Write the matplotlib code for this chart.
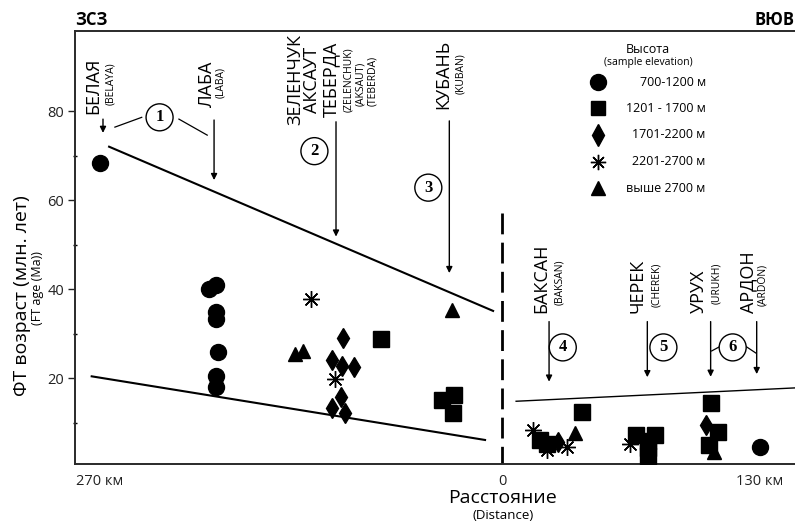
import numpy as np
import matplotlib
matplotlib.use("Agg")
import matplotlib.pyplot as plt
from matplotlib import font_manager

# ---------------- data ----------------
# distance in km (west negative, east positive), FT age in Ma
circle_x = [-270, -197, -192, -192, -192, -191, -192, -192, 130]
circle_y = [68.4, 40.0, 40.9, 34.9, 33.2, 25.9, 20.4, 17.9, 4.6]

square_x = [-81.3, -40.5, -32.2, -33.1, 40.1, 19.1, 22.7,
            67.5, 77.1, 73.6, 73.6, 73.6, 105.1, 108.8, 104.5]
square_y = [28.7, 15.1, 16.2, 12.1, 12.4, 6.1, 5.2,
            7.2, 7.2, 5.8, 4.3, 2.5, 14.3, 7.9, 4.9]

diamond_x = [-106.6, -114.0, -107.2, -99.4, -108.1, -114.0, -105.4, 28.2, 102.8]
diamond_y = [29.1, 24.0, 22.7, 22.4, 15.8, 13.3, 12.1, 5.7, 9.4]

aster_x = [-128.3, -112.2, 15.6, 22.7, 32.7, 64.5]
aster_y = [37.8, 19.7, 8.3, 3.8, 4.6, 5.3]

tri_x = [-139.0, -133.9, -33.8, 36.8, 107.0]
tri_y = [25.5, 26.1, 35.3, 7.6, 3.4]

upper_w_x = [-263.9, -6.0]
upper_w_y = [72.0, 35.1]
lower_w_x = [-275.6, -11.4]
lower_w_y = [20.4, 6.1]
east_x = [7.1, 147.6]
east_y = [14.8, 17.8]

legend_labels = ["700-1200 м", "1201 - 1700 м", "1701-2200 м", "2201-2700 м", "выше 2700 м"]
xtick_pos = [-270, 0, 130]
xtick_labels = ["270 км", "0", "130 км"]
ytick_major = [20, 40, 60, 80]
ytick_minor = [10, 30, 50, 70]

# ---------------- fonts ----------------
names = {f.name for f in font_manager.fontManager.ttflist}
BASE = "Open Sans" if "Open Sans" in names else "DejaVu Sans"
NARROW = "Liberation Sans Narrow" if "Liberation Sans Narrow" in names else BASE
SERIF = "Liberation Serif" if "Liberation Serif" in names else "DejaVu Serif"
plt.rcParams["font.family"] = [BASE, "DejaVu Sans"]
plt.rcParams["lines.scale_dashes"] = False

# ---------------- figure ----------------
fig = plt.figure(figsize=(7.95, 5.22), dpi=100)
ax = fig.add_axes([75 / 795, 1 - 464 / 522, 720 / 795, (464 - 31) / 522])

L, R = 1.489, 1.985
def fwd(x):
    x = np.asarray(x, float)
    return np.where(x < 0, x * L, x * R)
def inv(y):
    y = np.asarray(y, float)
    return np.where(y < 0, y / L, y / R)
ax.set_xscale("function", functions=(fwd, inv))
ax.set_xlim(-286.8, 147.6)
ax.set_ylim(0.7, 98)

for s in ["left", "top", "bottom"]:
    ax.spines[s].set_linewidth(1.4)
    ax.spines[s].set_color("#2a2a2a")
ax.spines["right"].set_visible(False)

ax.set_yticks(ytick_major)
ax.set_yticks(ytick_minor, minor=True)
ax.tick_params(axis="y", which="major", length=5, width=1, labelsize=10.5, pad=3, colors="#222222")
ax.tick_params(axis="y", which="minor", length=3, width=1, direction="inout")
ax.set_xticks(xtick_pos)
ax.set_xticklabels(xtick_labels)
ax.xaxis.set_minor_locator(matplotlib.ticker.NullLocator())
ax.tick_params(axis="x", length=0, labelsize=10.5, pad=7, colors="#222222")

# trend lines
ax.plot(upper_w_x, upper_w_y, color="black", lw=1.5, zorder=2)
ax.plot(lower_w_x, lower_w_y, color="black", lw=1.5, zorder=2)
ax.plot(east_x, east_y, color="black", lw=1.0, zorder=2)
ax.plot([0, 0], [57.1, 0.7], color="black", lw=2.0, dashes=(15, 6), zorder=2)

# markers
ax.plot(circle_x, circle_y, "o", color="black", ms=11.5, ls="none", zorder=3)
ax.plot(square_x, square_y, "s", color="black", ms=11, ls="none", zorder=3)
ax.plot(diamond_x, diamond_y, "d", color="black", ms=10.5, ls="none", zorder=3)
ax.plot(aster_x, aster_y, marker=(8, 2, 0), color="black", ms=12, mew=1.0, ls="none", zorder=3)
ax.plot(tri_x, tri_y, "^", color="black", ms=10, ls="none", zorder=3)

# river labels (west)
main_kw = dict(rotation=90, ha="center", va="center", fontsize=13, family=[NARROW, "DejaVu Sans"])
small_kw = dict(rotation=90, ha="center", va="center", fontsize=7.5, family=[NARROW, "DejaVu Sans"])
ax.text(-274.3, 85.7, "БЕЛАЯ", **main_kw)
ax.text(-262.8, 86.2, "(BELAYA)", **small_kw)
ax.text(-198.1, 86.0, "ЛАБА", **main_kw)
ax.text(-189.0, 86.5, "(LABA)", **small_kw)
ax.text(-138.6, 87.1, "ЗЕЛЕНЧУК", **main_kw)
ax.text(-127.6, 87.1, "АКСАУТ", **main_kw)
ax.text(-114.6, 87.1, "ТЕБЕРДА", **main_kw)
ax.text(-103.2, 87.0, "(ZELENCHUK)", **small_kw)
ax.text(-95.2, 86.1, "(AKSAUT)", **small_kw)
ax.text(-86.6, 86.7, "(TEBERDA)", **small_kw)
ax.text(-39.6, 88.2, "КУБАНЬ", **main_kw)
ax.text(-28.0, 88.4, "(KUBAN)", **small_kw)

# river labels (east) bottom-aligned
main_b = dict(main_kw, va="bottom")
small_b = dict(small_kw, va="bottom")
ax.text(19.9, 34.6, "БАКСАН", **main_b)
ax.text(29.2, 36.4, "(BAKSAN)", **small_b)
ax.text(68.3, 34.6, "ЧЕРЕК", **main_b)
ax.text(77.9, 36.0, "(CHEREK)", **small_b)
ax.text(99.3, 34.6, "УРУХ", **main_b)
ax.text(108.2, 36.6, "(URUKH)", **small_b)
ax.text(123.9, 34.6, "АРДОН", **main_b)
ax.text(131.5, 36.2, "(ARDON)", **small_b)

# arrows
arrows = [(-268, 78.2, 75.1), (-193.4, 78.0, 64.5), (-111.5, 77.6, 51.8), (-35.4, 77.8, 43.6),
          (23.7, 32.7, 19.2), (73.2, 32.7, 20.2), (105.1, 32.7, 20.3), (128.3, 32.7, 20.9)]
for x, y0, y1 in arrows:
    ax.annotate("", xy=(x, y1), xytext=(x, y0),
                arrowprops=dict(arrowstyle="-|>", lw=1.0, color="black", mutation_scale=9,
                                shrinkA=0, shrinkB=0), zorder=2)

# circled numbers
circ = [("1", -230, 78.6), ("2", -126, 71.0), ("3", -49.5, 62.8),
        ("4", 30.6, 26.9), ("5", 81.3, 26.9), ("6", 116.2, 26.9)]
for t, x, y in circ:
    ax.text(x, y, t, ha="center", va="center", fontsize=12, fontweight="bold",
            family=[SERIF], zorder=5,
            bbox=dict(boxstyle="circle,pad=0.33", fc="white", ec="black", lw=1.0))
# leader lines
ax.plot([-260, -242], [76.4, 78.6], color="black", lw=0.9)
ax.plot([-217, -198], [78.2, 74.6], color="black", lw=0.9)
ax.plot([110.2, 105.6], [27.2, 26.1], color="black", lw=0.9)
ax.plot([122.6, 128.0], [27.2, 25.6], color="black", lw=0.9)

# legend (manual)
tr = ax.transAxes
ax.text(0.796, 0.958, "Высота", transform=tr, ha="center", va="center", fontsize=9)
ax.text(0.796, 0.928, "(sample elevation)", transform=tr, ha="center", va="center", fontsize=7.5)
leg_rows = [0.882, 0.822, 0.760, 0.698, 0.637]
leg_styles = [dict(marker="o", ms=11.5), dict(marker="s", ms=10.5), dict(marker="d", ms=11),
              dict(marker=(8, 2, 0), ms=11, mew=1.0), dict(marker="^", ms=10)]
for yy, st, lab in zip(leg_rows, leg_styles, legend_labels):
    ax.plot([0.726], [yy], transform=tr, color="black", ls="none", clip_on=False, **st)
    ax.text(0.876, yy, lab, transform=tr, ha="right", va="center", fontsize=9)

# titles / labels
fig.text(75 / 795, 1 - 20 / 522, "ЗСЗ", ha="left", va="center", fontsize=12, fontweight="bold")
fig.text(1.0, 1 - 20 / 522, "ВЮВ", ha="right", va="center", fontsize=12, fontweight="bold")
fig.text(22 / 795, 1 - 296 / 522, "ФТ возраст (млн. лет)", rotation=90, ha="center", va="center", fontsize=14)
fig.text(38 / 795, 1 - 288 / 522, "(FT age (Ma))", rotation=90, ha="center", va="center", fontsize=9)
fig.text(503 / 795, 1 - 498 / 522, "Расстояние", ha="center", va="center", fontsize=14)
fig.text(503 / 795, 1 - 515.5 / 522, "(Distance)", ha="center", va="center", fontsize=9.5)

fig.savefig("out.png", dpi=100)
